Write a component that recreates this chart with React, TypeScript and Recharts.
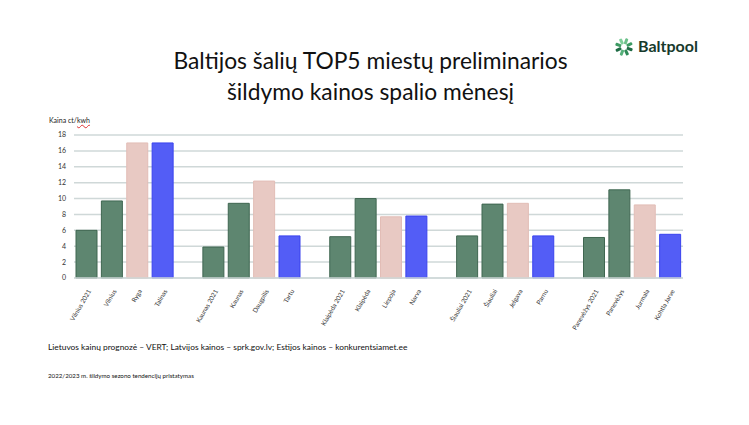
import React from "react";
import { BarChart, Bar, XAxis, YAxis, CartesianGrid, Cell } from "recharts";

const categories = [
  "Vilnius 2021", "Vilnius", "Ryga", "Talinas", "",
  "Kaunas 2021", "Kaunas", "Daugpilis", "Tartu", "",
  "Klaipėda 2021", "Klaipėda", "Liepoja", "Narva", "",
  "Šiauliai 2021", "Šiauliai", "Jelgava", "Parnu", "",
  "Panevėžys 2021", "Panevėžys", "Jurmala", "Kohtla Jarve",
];
const values: (number | null)[] = [
  6.0, 9.7, 17.0, 17.0, null,
  3.9, 9.4, 12.2, 5.3, null,
  5.2, 10.0, 7.7, 7.8, null,
  5.3, 9.3, 9.4, 5.3, null,
  5.1, 11.1, 9.2, 5.5,
];
const countries = [
  "LT", "LT", "LV", "EE", "",
  "LT", "LT", "LV", "EE", "",
  "LT", "LT", "LV", "EE", "",
  "LT", "LT", "LV", "EE", "",
  "LT", "LT", "LV", "EE",
];
const yTicks = [0, 2, 4, 6, 8, 10, 12, 14, 16, 18];

const fills: Record<string, string> = { LT: "#5e8670", LV: "#e8c9c3", EE: "#535df6" };
const strokes: Record<string, string> = { LT: "#3f6650", LV: "#e2bdb6", EE: "#3a43ee" };

const data = categories.map((name, i) => ({ name, value: values[i], country: countries[i] }));

const FONT = "Lato, 'Open Sans', sans-serif";

const XTick = (props: any) => {
  const { x, y, payload } = props;
  return (
    <g transform={`translate(${x + 3},${y + 4})`}>
      <text transform="rotate(-60)" textAnchor="end" fontSize={6.4} fill="#333" fontFamily={FONT} dy={2}>
        {payload.value}
      </text>
    </g>
  );
};

const Logo = () => {
  const dashes = [0, 45, 90, 135, 180, 225, 270, 315];
  const shades = ["#6cc08a", "#3d9a63", "#1f6b45", "#2f8a57", "#56b07a", "#1f6b45", "#3d9a63", "#7fcf9a"];
  return (
    <svg width={20} height={20} style={{ position: "absolute", left: 614, top: 37 }}>
      {dashes.map((a, i) => (
        <rect key={a} x={8.5} y={1} width={3} height={6} rx={1} fill={shades[i]}
          transform={`rotate(${a + 20} 10 10)`} />
      ))}
    </svg>
  );
};

export default function App() {
  return (
    <div style={{ position: "absolute", left: 0, top: 0, width: 749, height: 425, background: "#fff", fontFamily: FONT }}>
      <div style={{ position: "absolute", left: 0, width: 749, top: 45, textAlign: "center", fontSize: 22.8, lineHeight: "31px", color: "#111", paddingRight: 8, boxSizing: "border-box" }}>
        Baltijos šalių TOP5 miestų preliminarios<br />šildymo kainos spalio mėnesį
      </div>
      <Logo />
      <div style={{ position: "absolute", left: 638, top: 36, fontSize: 16, fontWeight: 700, color: "#173a2c" }}>Baltpool</div>
      <div style={{ position: "absolute", left: 49, top: 116, fontSize: 7, color: "#222" }}>
        Kaina ct/<span style={{ textDecoration: "underline wavy #d33", textDecorationThickness: 0.5 }}>kwh</span>
      </div>
      <div style={{ position: "absolute", left: 0, top: 0 }}>
        <BarChart width={749} height={425} data={data} margin={{ top: 135, right: 66, bottom: 87, left: 44 }}>
          <CartesianGrid vertical={false} stroke="#cfd8d8" strokeWidth={1.5} />
          <XAxis dataKey="name" interval={0} tick={<XTick />} tickLine={false} axisLine={{ stroke: "#cfd8d8", strokeWidth: 1.5 }} height={60} />
          <YAxis domain={[0, 18]} ticks={yTicks} tick={{ fontSize: 7, fill: "#333", fontFamily: FONT }} tickLine={false} axisLine={false} width={30} interval={0} />
          <Bar dataKey="value" barSize={21} isAnimationActive={false} strokeWidth={1}>
            {data.map((d, i) => (
              <Cell key={i} fill={fills[d.country] || "#fff"} stroke={strokes[d.country] || "none"} />
            ))}
          </Bar>
        </BarChart>
      </div>
      <div style={{ position: "absolute", left: 48, top: 342, fontSize: 8.4, color: "#111" }}>
        Lietuvos kainų prognozė – VERT; Latvijos kainos – sprk.gov.lv; Estijos kainos – konkurentsiamet.ee
      </div>
      <div style={{ position: "absolute", left: 48, top: 372, fontSize: 6.2, color: "#111" }}>
        2022/2023 m. šildymo sezono tendencijų pristatymas
      </div>
    </div>
  );
}
